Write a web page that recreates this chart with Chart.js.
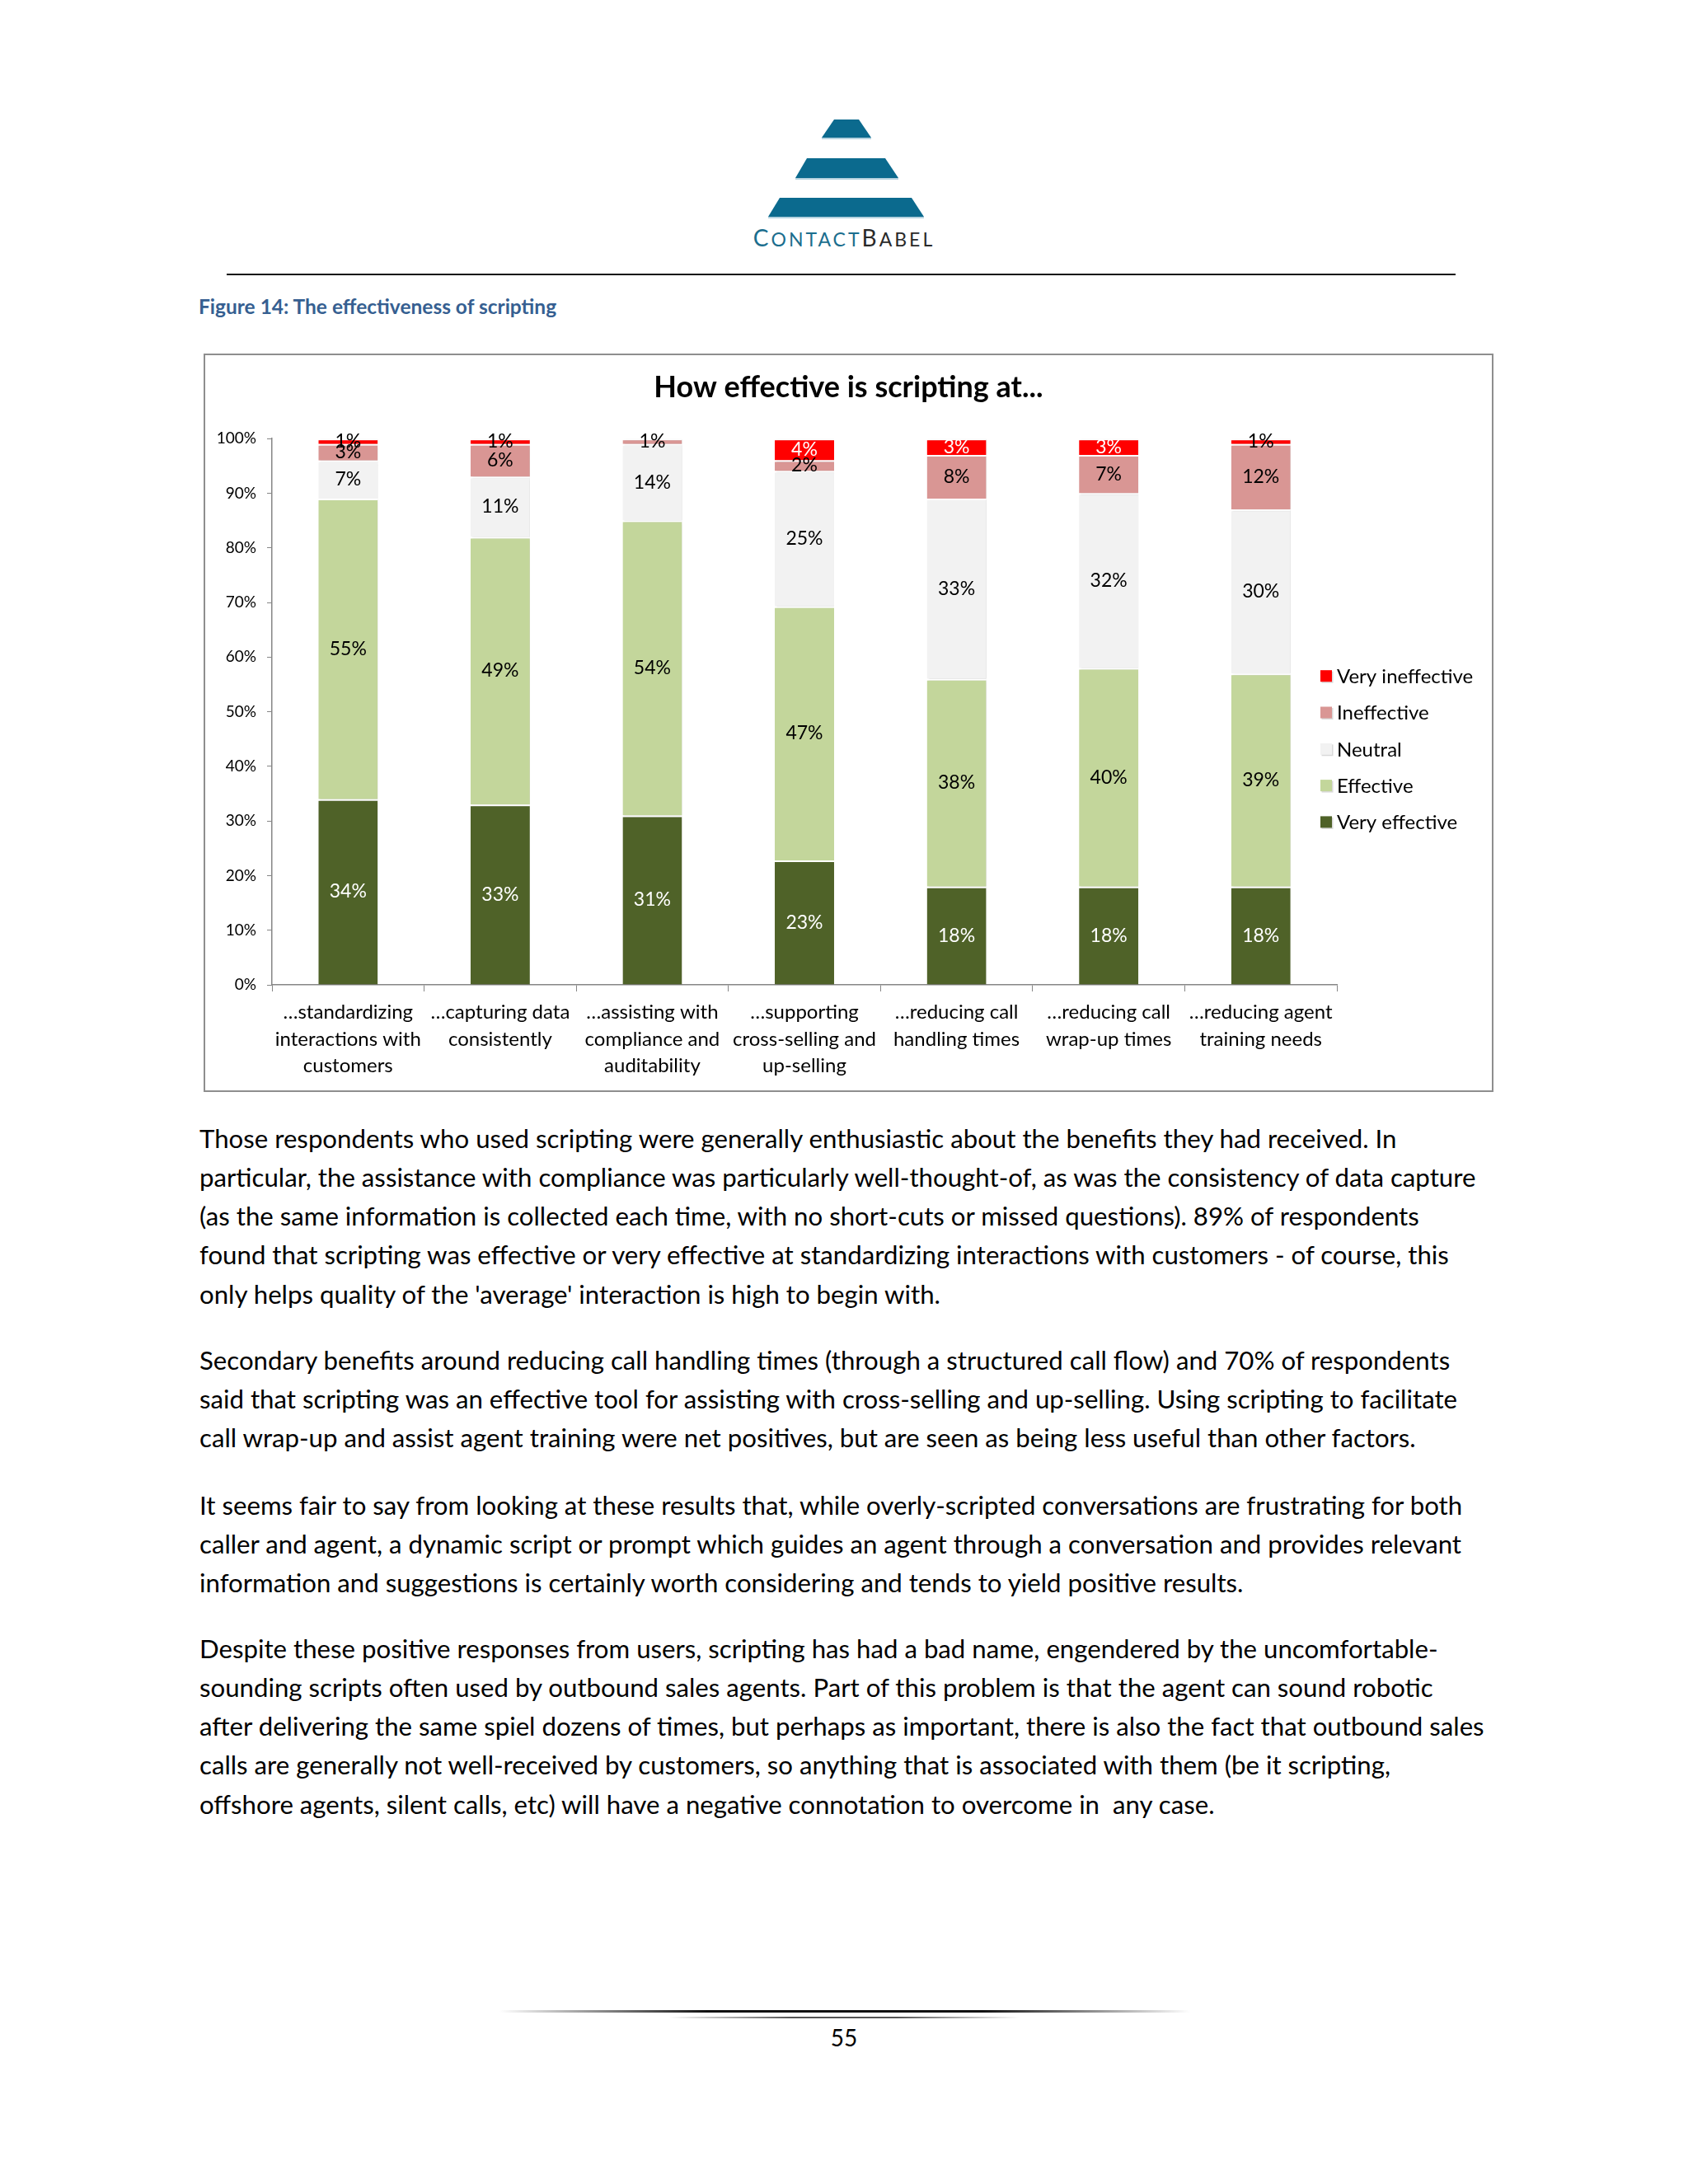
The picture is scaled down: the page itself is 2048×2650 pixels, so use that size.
<!DOCTYPE html>
<html>
<head>
<meta charset="utf-8">
<script src="https://cdn.jsdelivr.net/npm/chart.js@4.4.1/dist/chart.umd.min.js"></script>
<style>
html,body{margin:0;padding:0;background:#fff;}
body{width:2048px;height:2650px;position:relative;overflow:hidden;font-family:Lato,"Open Sans",sans-serif;color:#000;}
.abs{position:absolute;}
#brand{left:0;width:2048px;text-align:center;top:270px;font-size:28px;line-height:36px;letter-spacing:3px;white-space:nowrap;}
#brand .sc{font-size:23px;}
#rule{left:275px;top:332px;width:1491px;height:2px;background:#111;}
#caption{left:241px;top:359px;font-size:24.5px;line-height:26px;font-weight:bold;color:#365F91;white-space:nowrap;}
#chartbox{left:247px;top:429px;width:1561px;height:892px;border:2px solid #8e8e8e;}
#chartbox canvas{position:absolute;left:0;top:0;}
.para{left:242px;font-size:31.2px;line-height:47.3px;white-space:nowrap;}
#f1{left:606px;top:2439px;width:838px;height:3px;background:linear-gradient(to right,rgba(0,0,0,0),#111 30%,#111 70%,rgba(0,0,0,0));}
#f2{left:812px;top:2447px;width:425px;height:2px;background:linear-gradient(to right,rgba(80,80,80,0),#555 35%,#555 65%,rgba(80,80,80,0));}
#pnum{left:0;width:2048px;text-align:center;top:2455px;font-size:28px;line-height:34px;}
</style>
</head>
<body>
<svg class="abs" style="left:0;top:0" width="2048" height="300">
  <polygon points="1012,145 1042,145 1057,167 997,167" fill="#0B6A8E"/>
  <polygon points="979,192 1074,192 1090,216 965,216" fill="#0B6A8E"/>
  <polygon points="946,240 1106,240 1121,263 932,263" fill="#0B6A8E"/>
  <line x1="997" y1="168" x2="1057" y2="168" stroke="#9cc3d5" stroke-width="1.5"/>
  <line x1="965" y1="217" x2="1090" y2="217" stroke="#9cc3d5" stroke-width="1.5"/>
  <line x1="932" y1="264" x2="1121" y2="264" stroke="#9cc3d5" stroke-width="1.5"/>
</svg>
<div id="brand" class="abs"><span style="color:#1B6E8E">C<span class="sc">ONTACT</span></span><span style="color:#2a2a2a">B<span class="sc">ABEL</span></span></div>
<div id="rule" class="abs"></div>
<div id="caption" class="abs">Figure 14: The effectiveness of scripting</div>
<div id="chartbox" class="abs"><canvas id="c" width="1561" height="892"></canvas></div>

<div class="abs para" style="top:1357.5px">Those respondents who used scripting were generally enthusiastic about the benefits they had received. In<br>particular, the assistance with compliance was particularly well-thought-of, as was the consistency of data capture<br>(as the same information is collected each time, with no short-cuts or missed questions). 89% of respondents<br>found that scripting was effective or very effective at standardizing interactions with customers - of course, this<br>only helps quality of the 'average' interaction is high to begin with.</div>
<div class="abs para" style="top:1626.5px">Secondary benefits around reducing call handling times (through a structured call flow) and 70% of respondents<br>said that scripting was an effective tool for assisting with cross-selling and up-selling. Using scripting to facilitate<br>call wrap-up and assist agent training were net positives, but are seen as being less useful than other factors.</div>
<div class="abs para" style="top:1802.5px">It seems fair to say from looking at these results that, while overly-scripted conversations are frustrating for both<br>caller and agent, a dynamic script or prompt which guides an agent through a conversation and provides relevant<br>information and suggestions is certainly worth considering and tends to yield positive results.</div>
<div class="abs para" style="top:1976.5px">Despite these positive responses from users, scripting has had a bad name, engendered by the uncomfortable-<br>sounding scripts often used by outbound sales agents. Part of this problem is that the agent can sound robotic<br>after delivering the same spiel dozens of times, but perhaps as important, there is also the fact that outbound sales<br>calls are generally not well-received by customers, so anything that is associated with them (be it scripting,<br>offshore agents, silent calls, etc) will have a negative connotation to overcome in&nbsp; any case.</div>

<div id="f1" class="abs"></div>
<div id="f2" class="abs"></div>
<div id="pnum" class="abs">55</div>

<script>
// ---- Data ----
const categories = [
  ["\u2026standardizing", "interactions with", "customers"],
  ["\u2026capturing data", "consistently"],
  ["\u2026assisting with", "compliance and", "auditability"],
  ["\u2026supporting", "cross-selling and", "up-selling"],
  ["\u2026reducing call", "handling times"],
  ["\u2026reducing call", "wrap-up times"],
  ["\u2026reducing agent", "training needs"]
];
const seriesNames = ["Very effective", "Effective", "Neutral", "Ineffective", "Very ineffective"];
const veryEffective   = [34, 33, 31, 23, 18, 18, 18];
const effective       = [55, 49, 54, 47, 38, 40, 39];
const neutral         = [7, 11, 14, 25, 33, 32, 30];
const ineffective     = [3, 6, 1, 2, 8, 7, 12];
const veryIneffective = [1, 1, 0, 4, 3, 3, 1];
const yTickStep = 10;
const chartTitle = "How effective is scripting at...";

// ---- Styles ----
const seriesColors = ["#4F6228", "#C3D69B", "#F2F2F2", "#D99694", "#FF0000"];
const seriesValues = [veryEffective, effective, neutral, ineffective, veryIneffective];

const totals = categories.map((_, i) => seriesValues.reduce((s, arr) => s + arr[i], 0));

const datasets = seriesValues.map((vals, k) => ({
  label: seriesNames[k],
  data: vals.map((v, i) => v / totals[i] * 100),
  rawValues: vals,
  backgroundColor: seriesColors[k],
  borderColor: "#FFFFFF",
  borderWidth: {top: 2, left: 0, right: 0, bottom: 0},
  borderSkipped: false,
  barPercentage: 0.39,
  categoryPercentage: 1.0,
  yAxisID: "y"
}));

function labelColor(k, v) {
  if (k === 0) return "#FFFFFF";
  if (k === 4) return v >= 3 ? "#FFFFFF" : "#000000";
  return "#000000";
}

const segPlugin = {
  id: "segLabels",
  beforeDatasetsDraw(chart) {
    const ctx = chart.ctx;
    ctx.save();
    ctx.shadowColor = "rgba(0,0,0,0.20)";
    ctx.shadowBlur = 2;
    ctx.shadowOffsetX = 2;
    ctx.shadowOffsetY = 1;
  },
  afterDatasetsDraw(chart) {
    const ctx = chart.ctx;
    ctx.restore();
    ctx.save();
    ctx.font = "23px Lato";
    ctx.textAlign = "center";
    ctx.textBaseline = "middle";
    chart.data.datasets.forEach((ds, k) => {
      const meta = chart.getDatasetMeta(k);
      meta.data.forEach((el, i) => {
        const v = ds.rawValues[i];
        if (!v) return;
        ctx.fillStyle = labelColor(k, v);
        ctx.fillText(v + "%", el.x, (el.y + el.base) / 2);
      });
    });
    ctx.restore();
  },
  afterDraw(chart) {
    const ctx = chart.ctx;
    const ca = chart.chartArea;
    const x0 = ca.right - 20;
    const y0 = ca.top + 288;
    const step = 44.3;
    ctx.save();
    ctx.font = "24px Lato";
    ctx.textAlign = "left";
    ctx.textBaseline = "middle";
    const n = chart.data.datasets.length;
    for (let j = 0; j < n; j++) {
      const ds = chart.data.datasets[n - 1 - j];
      const y = y0 + j * step;
      ctx.fillStyle = "rgba(0,0,0,0.15)";
      ctx.fillRect(x0 + 1.5, y - 5.5, 14, 14);
      ctx.fillStyle = ds.backgroundColor;
      ctx.fillRect(x0, y - 7, 14, 14);
      ctx.fillStyle = "#000";
      ctx.fillText(ds.label, x0 + 20, y + 1);
    }
    ctx.restore();
  }
};

function build() {
  Chart.defaults.font.family = "Lato";
  Chart.defaults.color = "#000";
  new Chart(document.getElementById("c"), {
    type: "bar",
    data: { labels: categories, datasets: datasets },
    options: {
      responsive: false,
      animation: false,
      layout: { padding: { left: 0, right: 0, top: 0, bottom: 0 } },
      plugins: {
        legend: { display: false },
        tooltip: { enabled: false },
        title: {
          display: true,
          text: chartTitle,
          color: "#000",
          font: { size: 36, weight: "bold" },
          padding: { top: 18, bottom: 40 }
        }
      },
      scales: {
        x: {
          stacked: true,
          ticks: { font: { size: 24, lineHeight: 1.36 }, color: "#000", padding: 9, maxRotation: 0, autoSkip: false },
          grid: { drawOnChartArea: false, drawTicks: true, tickLength: 8, color: "#868686", offset: true },
          border: { color: "#868686", width: 1.5 },
          afterFit: s => { s.height = 128; }
        },
        y: {
          stacked: true,
          min: 0, max: 100,
          ticks: { stepSize: yTickStep, callback: v => v + "%", font: { size: 19 }, color: "#000", padding: 13 },
          grid: { drawOnChartArea: false, drawTicks: true, tickLength: 6, color: "#868686" },
          border: { color: "#868686", width: 1.5 },
          afterFit: s => { s.width = 81; }
        },
        legendSpace: {
          type: "linear",
          position: "right",
          display: true,
          min: 0, max: 1,
          grid: { display: false, drawTicks: false },
          ticks: { display: false },
          border: { display: false },
          afterFit: s => { s.width = 188; }
        }
      }
    },
    plugins: [segPlugin]
  });
}
if (document.fonts && document.fonts.load) {
  Promise.all([document.fonts.load("24px Lato"), document.fonts.load("bold 36px Lato")]).then(build, build);
} else { build(); }
</script>
</body>
</html>
